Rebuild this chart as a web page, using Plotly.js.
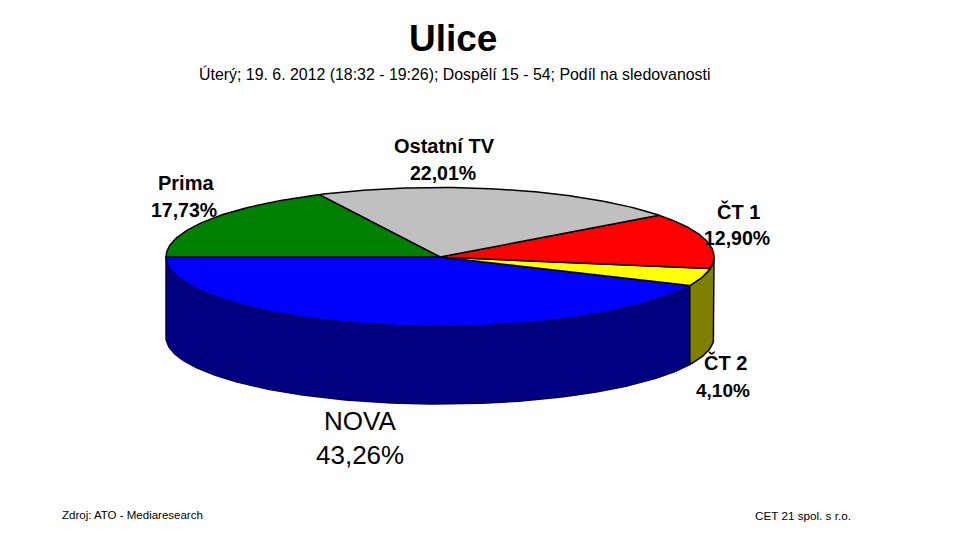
<!DOCTYPE html>
<html>
<head>
<meta charset="utf-8">
<script src="https://cdn.plot.ly/plotly-3.0.1.min.js"></script>
<style>
	html, body { margin: 0; padding: 0; background: #fff; }
</style>
</head>
<body>
<div id="chart" style="width:959px;height:541px;"></div>
<script>
// Slices in drawing order, starting at the left edge and going through the front.
const channels = ["NOVA", "ČT 2", "ČT 1", "Ostatní TV", "Prima"];
const shares = [43.26, 4.10, 12.90, 22.01, 17.73];
const topColors = ["#0000ff", "#ffff00", "#ff0000", "#c0c0c0", "#008000"];
const wallColors = ["#000080", "#808000", "#800000", "#808080", "#004000"];
const edgeColors = ["#000050", "#000000", "#000000", "#000000", "#000000"];

const nameX = [360, 725, 738, 444, 186];
const nameY = [421, 362, 211, 146, 183];
const shareX = [360, 723, 737, 443, 184];
const shareY = [455, 390, 238, 173, 210];
const nameSize = [26, 20, 20, 20, 20];
const shareSize = [26, 19, 19.5, 19.5, 19.5];

const CENTER_X = 440;
const CENTER_Y = 257;
const RADIUS_X = 274;
const RADIUS_Y = 69.5;
const FLOOR_DROP = 80;
const FLOOR_RADIUS_Y = 67;
const MIN_WALL_ANGLE = 15;

function rimPoint(angle, drop, radiusY) {
	let rad = angle * Math.PI / 180;
	return [CENTER_X + RADIUS_X * Math.cos(rad), CENTER_Y + drop + radiusY * Math.sin(rad)];
}

function arc(from, to, drop, radiusY) {
	let points = [];
	let steps = Math.max(2, Math.ceil(Math.abs(from - to)));
	for (let i = 0; i <= steps; i++) {
		points.push(rimPoint(from + (to - from) * i / steps, drop, radiusY));
	}
	return points;
}

function polygonTrace(points, fillColor, edgeColor) {
	return {
		x: points.map(p => p[0]),
		y: points.map(p => p[1]),
		type: "scatter",
		mode: "lines",
		fill: "toself",
		fillcolor: fillColor,
		line: { color: edgeColor, width: 1.5 },
		hoverinfo: "skip",
		showlegend: false
	};
}

function buildTraces() {
	let walls = [];
	let tops = [];
	let total = shares.reduce((a, b) => a + b, 0);
	let angle = 180;

	shares.forEach((share, i) => {
		let end = angle - share / total * 360;

		// Only the front half of the rim has a wall. A sliver at the right edge
		// goes to the slice before it, the original chart shows no wall of its own there.
		if (end < 180 && angle > MIN_WALL_ANGLE) {
			let from = Math.min(angle, 180);
			let to = end < MIN_WALL_ANGLE ? 0 : end;
			let outline = arc(from, to, 0, RADIUS_Y).concat(arc(to, from, FLOOR_DROP, FLOOR_RADIUS_Y));
			outline.push(rimPoint(from, 0, RADIUS_Y));
			walls.push(polygonTrace(outline, wallColors[i], edgeColors[i]));
		}

		let top = [[CENTER_X, CENTER_Y]].concat(arc(angle, end, 0, RADIUS_Y)).concat([[CENTER_X, CENTER_Y]]);
		tops.push(polygonTrace(top, topColors[i], edgeColors[i]));
		angle = end;
	});

	return walls.concat(tops);
}

function textNote(text, x, y, size, bold, anchor) {
	return {
		text: bold ? "<b>" + text + "</b>" : text,
		x: x,
		y: y,
		xref: "x",
		yref: "y",
		xanchor: anchor || "center",
		yanchor: "middle",
		showarrow: false,
		font: { family: "Liberation Sans, Arial, sans-serif", size: size, color: "#000000" }
	};
}

function buildAnnotations() {
	let notes = [
		textNote("Ulice", 453, 38, 37, true),
		textNote("Úterý; 19. 6. 2012 (18:32 - 19:26); Dospělí 15 - 54; Podíl na sledovanosti", 454, 74, 15.9, false),
		textNote("Zdroj: ATO - Mediaresearch", 60, 515, 11.5, false, "left"),
		textNote("CET 21 spol. s r.o.", 753, 515, 11.7, false, "left")
	];

	channels.forEach((channel, i) => {
		let bold = channel != "NOVA";
		let shareText = shares[i].toFixed(2).replace(".", ",") + "%";
		notes.push(textNote(channel, nameX[i], nameY[i], nameSize[i], bold));
		notes.push(textNote(shareText, shareX[i], shareY[i], shareSize[i], bold));
	});

	return notes;
}

let hiddenAxis = { visible: false, fixedrange: true };

let layout = {
	width: 959,
	height: 541,
	margin: { l: 0, r: 0, t: 0, b: 0 },
	paper_bgcolor: "#ffffff",
	plot_bgcolor: "#ffffff",
	xaxis: Object.assign({ range: [0, 959] }, hiddenAxis),
	yaxis: Object.assign({ range: [541, 0] }, hiddenAxis),
	annotations: buildAnnotations()
};

Plotly.newPlot("chart", buildTraces(), layout, { displayModeBar: false, staticPlot: true });
</script>
</body>
</html>
